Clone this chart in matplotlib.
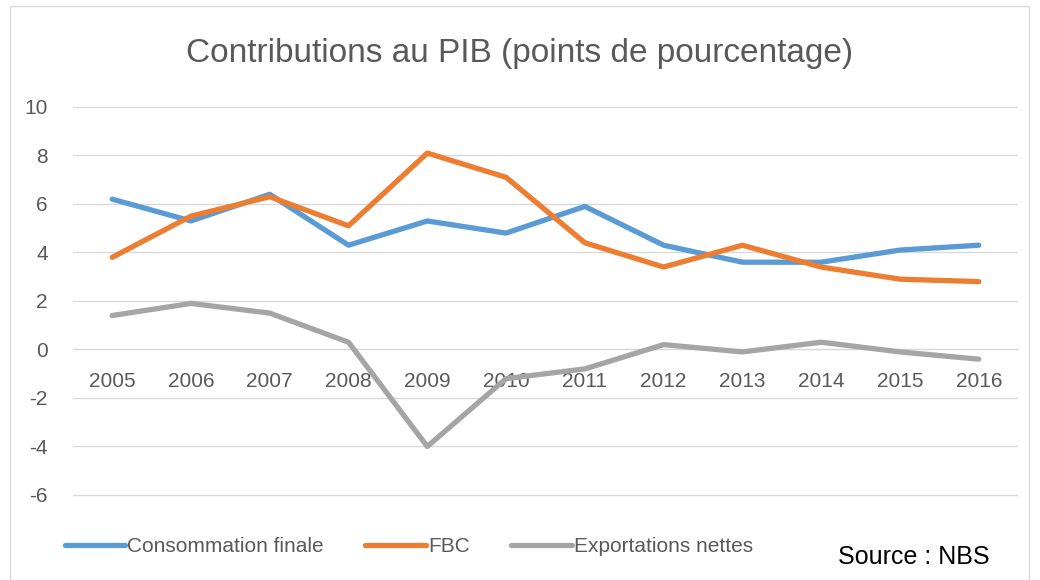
import matplotlib.pyplot as plt
from matplotlib.patches import Rectangle

# Données
annees = ['2005', '2006', '2007', '2008', '2009', '2010',
          '2011', '2012', '2013', '2014', '2015', '2016']
consommation = [6.2, 5.3, 6.4, 4.3, 5.3, 4.8, 5.9, 4.3, 3.6, 3.6, 4.1, 4.3]
fbc = [3.8, 5.5, 6.3, 5.1, 8.1, 7.1, 4.4, 3.4, 4.3, 3.4, 2.9, 2.8]
exportations = [1.4, 1.9, 1.5, 0.3, -4.0, -1.2, -0.8, 0.2, -0.1, 0.3, -0.1, -0.4]
y_ticks = [-6, -4, -2, 0, 2, 4, 6, 8, 10]

plt.rcParams['font.family'] = ['Liberation Sans', 'DejaVu Sans']

fig = plt.figure(figsize=(10.4, 5.8), dpi=100)
ax = fig.add_axes([0.070, 0.1424, 0.909, 0.6773])

# cadre gris autour du graphique
fig.patches.append(Rectangle((0.0096, -0.01), 0.98, 1.0, transform=fig.transFigure,
                             fill=False, edgecolor='#D9D9D9', linewidth=1))

x = range(len(annees))
ax.plot(x, consommation, color='#5B9BD5', lw=3.8, solid_capstyle='round',
        solid_joinstyle='round', label='Consommation finale', zorder=3)
ax.plot(x, fbc, color='#ED7D31', lw=3.8, solid_capstyle='round',
        solid_joinstyle='round', label='FBC', zorder=3)
ax.plot(x, exportations, color='#A5A5A5', lw=3.8, solid_capstyle='round',
        solid_joinstyle='round', label='Exportations nettes', zorder=3)

ax.set_xlim(-0.5, len(annees) - 0.5)
ax.set_ylim(-6.1, 10.1)
ax.set_yticks(y_ticks)
ax.set_yticklabels([str(v) for v in y_ticks])
ax.set_xticks(list(x))
ax.set_xticklabels(annees)

ax.grid(axis='y', color='#D9D9D9', linewidth=1)
ax.set_axisbelow(True)
for s in ['top', 'right', 'left']:
    ax.spines[s].set_visible(False)
ax.spines['bottom'].set_position(('data', 0))
ax.spines['bottom'].set_color('#D9D9D9')
ax.tick_params(axis='both', length=0, labelsize=15, labelcolor='#595959')
ax.tick_params(axis='x', pad=16)
ax.tick_params(axis='y', pad=18)

fig.text(0.5, 0.907, 'Contributions au PIB (points de pourcentage)',
         ha='center', va='center', fontsize=24, color='#595959')

fig.legend(loc='center', bbox_to_anchor=(0.393, 0.057), ncol=3, frameon=False,
           handlelength=2.9, handletextpad=0.1, columnspacing=2.0,
           fontsize=15, labelcolor='#595959')

fig.text(0.806, 0.04, 'Source : NBS', ha='left', va='center', fontsize=18, color='black')

fig.savefig('out.png', dpi=100)
